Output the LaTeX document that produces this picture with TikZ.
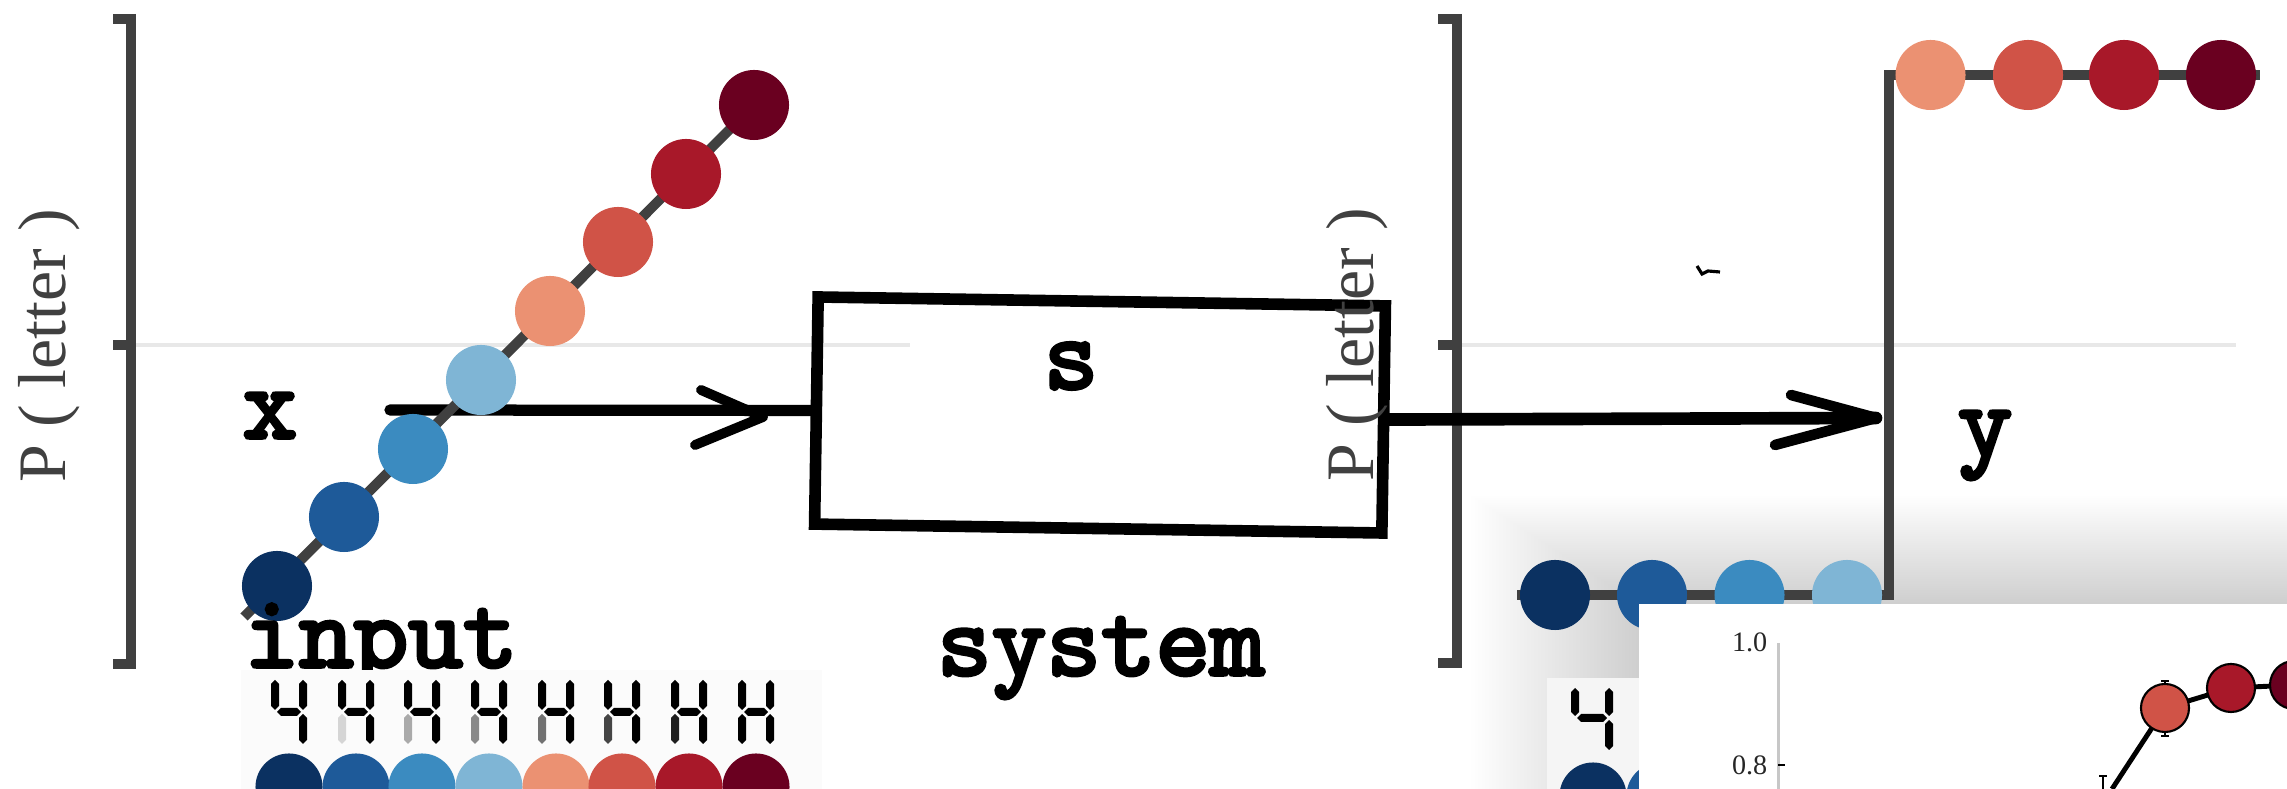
\documentclass[tikz,border=0pt]{standalone}
\usepackage{fontspec}
\setmainfont{Liberation Serif}
\newfontfamily\twfont{lmmono10-regular.otf}[FakeBold=3.5]
\usetikzlibrary{arrows.meta}
\definecolor{c1}{HTML}{0B3161}
\definecolor{c2}{HTML}{1E5A99}
\definecolor{c3}{HTML}{3B8BC0}
\definecolor{c4}{HTML}{7FB5D5}
\definecolor{c5}{HTML}{EB9172}
\definecolor{c6}{HTML}{D05347}
\definecolor{c7}{HTML}{A81829}
\definecolor{c8}{HTML}{6A0020}
\definecolor{axgray}{HTML}{404040}
\definecolor{gridgray}{HTML}{E8E8E8}
\newcommand{\segV}[4]{\fill[#4] (#1,#2) -- (#1+4,#2+4) -- (#1+4,#3-4) -- (#1,#3) -- (#1-4,#3-4) -- (#1-4,#2+4) -- cycle;}
\newcommand{\segH}[4]{\fill[#4] (#1,#3) -- (#1+4,#3-4) -- (#2-4,#3-4) -- (#2,#3) -- (#2-4,#3+4) -- (#1+4,#3+4) -- cycle;}
\begin{document}
\begin{tikzpicture}[x=0.01cm,y=-0.01cm,
  axisbar/.style={draw=axgray,line width=3.1pt},
  capbar/.style={draw=axgray,line width=2.85pt},
  gridln/.style={draw=gridgray,line width=1.4pt},
  dot/.style={circle,inner sep=0pt,minimum size=0.7cm},
  sdot/.style={circle,inner sep=0pt,minimum size=0.67cm},
  pdot/.style={circle,inner sep=0pt,minimum size=0.48cm,draw=black,line width=0.6pt},
  hand/.style={draw=black,line width=3.2pt,line join=round,line cap=round},
  tw/.style={font=\fontsize{29.6}{34}\selectfont\twfont,inner sep=0pt},
  plabel/.style={font=\fontsize{19.3}{22}\selectfont,text=axgray,rotate=90,inner sep=0pt},
  ticklab/.style={font=\fontsize{8}{9}\selectfont,text=black!85,inner sep=0pt,anchor=east},
]
\useasboundingbox (0,0) rectangle (2287,789);
% soft shadow behind the inset
\foreach \i in {1,...,48}
  \fill[black,opacity=0.0032] (1639-3.5*\i,604-2.25*\i) rectangle (2287,789);
% ---------- left panel ----------
\draw[gridln] (131,345) -- (910,345);
\draw[axisbar] (131,14) -- (131,669);
\draw[capbar] (113,19) -- (136,19);
\draw[capbar] (113,345) -- (136,345);
\draw[capbar] (113,664) -- (136,664);
\node[plabel] (pl1) at (49,346) {P ( letter )};
% system box
\node[draw=black,line width=3.3pt,minimum width=5.67cm,minimum height=2.27cm,rotate=-0.9,inner sep=0pt] (sys) at (1100,415) {};
\node[tw] (slab) at (1071,366) {s};
\node[tw,anchor=base] (syslab) at (1101,675) {system};
% arrow x -> system
\coordinate (xs) at (390,410);
\coordinate (tip1) at (763,417);
\coordinate (a1) at (701,390);
\coordinate (a2) at (695,445);
\draw[hand] (xs) -- (sys.west);
\draw[hand,line width=2.8pt] (a1) -- (tip1) -- (a2);
\node[tw,anchor=base] (xlab) at (270,438) {x};
% diagonal input curve
\coordinate (p0) at (244,617);
\coordinate (p1) at (277,586);
\coordinate (p2) at (344,517);
\coordinate (p3) at (413,449);
\coordinate (p4) at (481,380);
\coordinate (p5) at (550,311);
\coordinate (p6) at (618,242);
\coordinate (p7) at (686,174);
\coordinate (p8) at (754,105);
\draw[draw=axgray,line width=2.85pt] (p0) -- (p8);
\node[dot,fill=c1] (d1) at (p1) {};
\node[dot,fill=c2] (d2) at (p2) {};
\node[dot,fill=c3] (d3) at (p3) {};
\node[dot,fill=c4] (d4) at (p4) {};
\node[dot,fill=c5] (d5) at (p5) {};
\node[dot,fill=c6] (d6) at (p6) {};
\node[dot,fill=c7] (d7) at (p7) {};
\node[dot,fill=c8] (d8) at (p8) {};
\node[tw,anchor=base] (inlab) at (381,667) {input};
% seven segment strip
\fill[black!1.5] (241,670) rectangle (822,789);
\foreach \cx/\g in {289/0,356/15,422/32,489/45,556/55,622/72,689/88,756/100}{
  \segV{\cx-14}{680}{710}{black}
  \segV{\cx-14}{714}{744}{black,opacity=\g/100}
  \segV{\cx+14}{680}{710}{black}
  \segV{\cx+14}{714}{744}{black}
  \segH{\cx-12}{\cx+12}{712}{black}
}
\foreach \cx/\c [count=\k] in {289/c1,356/c2,422/c3,489/c4,556/c5,622/c6,689/c7,756/c8}
  \node[sdot,fill=\c] (b\k) at (\cx,787) {};
% ---------- right panel ----------
\draw[gridln] (1457,345) -- (2236,345);
\draw[axisbar] (1457,14) -- (1457,668);
\draw[capbar] (1438,19) -- (1462,19);
\draw[capbar] (1438,345) -- (1462,345);
\draw[capbar] (1438,663) -- (1462,663);
\node[plabel] (pl2) at (1357,345) {P ( letter )};
\draw[line width=0.9pt] (1697,266) -- (1702,274) -- (1708,271) -- (1720,272);
% arrow system -> y
\coordinate (tip2) at (1876,418);
\coordinate (b1) at (1791,395);
\coordinate (b2) at (1775,445);
\draw[hand,line width=3.6pt] (sys.east) -- (tip2);
\draw[hand,line width=3pt] (b1) -- (tip2) -- (b2);
\node[tw,anchor=base] (ylab) at (1985,456) {y};
% step output
\coordinate (s0) at (1517,595);
\coordinate (s1) at (1889,595);
\coordinate (s2) at (1889,75);
\coordinate (s3) at (2260,75);
% background digit panel (behind inset)
\fill[black!4] (1547,678) rectangle (1650,789);
\segV{1575}{688}{716}{black}
\segV{1609}{688}{716}{black}
\segV{1609}{720}{750}{black}
\segH{1577}{1607}{718}{black}
\node[sdot,fill=c1] (rb1) at (1593,796) {};
\node[sdot,fill=c2] (rb2) at (1660,796) {};
\draw[draw=axgray,line width=2.85pt] (s0) -- (s1) -- (s2) -- (s3);
\node[dot,fill=c1] (o1) at (1555,595) {};
\node[dot,fill=c2] (o2) at (1652,595) {};
\node[dot,fill=c3] (o3) at (1749.5,595) {};
\node[dot,fill=c4] (o4) at (1847,595) {};
\node[dot,fill=c5] (o5) at (1930.5,75) {};
\node[dot,fill=c6] (o6) at (2028,75) {};
\node[dot,fill=c7] (o7) at (2124,75) {};
\node[dot,fill=c8] (o8) at (2221,75) {};
% ---------- inset plot ----------
\fill[white] (1639,604) rectangle (2300,800);
\draw[draw=black!22,line width=0.85pt] (1778,643) -- (1778,789);
\node[ticklab] (t10) at (1768,642) {1.0};
\node[ticklab] (t08) at (1768,765) {0.8};
\draw[line width=0.6pt] (1778,765) -- (1785,765);
\coordinate (q0) at (2112,789);
\coordinate (q1) at (2165,708);
\coordinate (q2) at (2231,688);
\coordinate (q3) at (2294,685);
\draw[line width=0.6pt] (2103,776) -- (2103,789);
\draw[line width=0.6pt] (2099,776) -- (2107,776);
\draw[line width=1.4pt] (q0) -- (q1) -- (q2) -- (q3);
\draw[line width=0.6pt] (2165,681) -- (2165,736);
\draw[line width=0.6pt] (2161,681) -- (2169,681);
\draw[line width=0.6pt] (2161,736) -- (2169,736);
\node[pdot,fill=c6] (e1) at (q1) {};
\node[pdot,fill=c7] (e2) at (q2) {};
\node[pdot,fill=c8] (e3) at (q3) {};
\end{tikzpicture}
\end{document}
